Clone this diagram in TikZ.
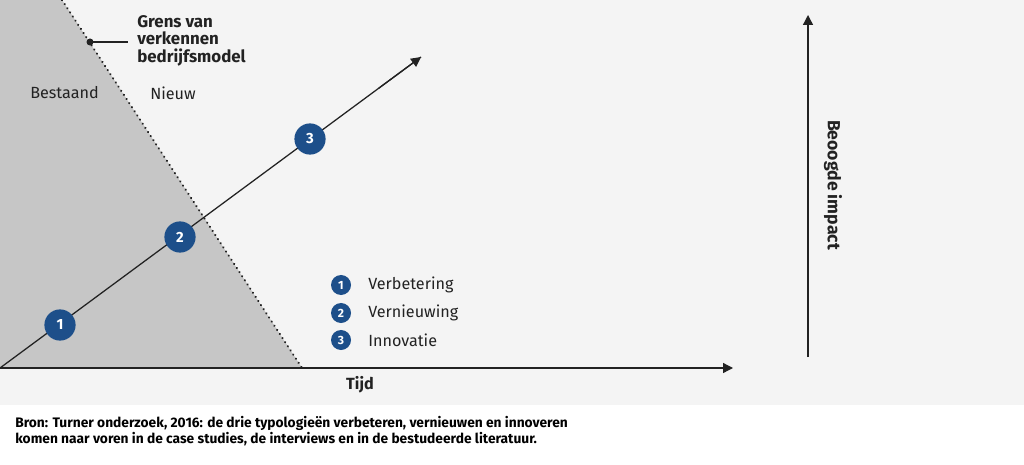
\documentclass[tikz,border=0pt]{standalone}
\usepackage{fontspec}
\setmainfont{Fira Sans}
\usetikzlibrary{arrows.meta,calc}
\definecolor{bg}{HTML}{F4F4F4}
\definecolor{tri}{HTML}{C6C6C6}
\definecolor{blu}{HTML}{1D4F8A}
\definecolor{ink}{HTML}{222222}
\tikzset{
  num/.style={circle,fill=blu,text=white,font=\bfseries\fontsize{10.5}{12}\selectfont,minimum size=0.78cm,inner sep=0pt},
  lnum/.style={circle,fill=blu,text=white,font=\bfseries\fontsize{8.5}{9}\selectfont,minimum size=0.5cm,inner sep=0pt},
  lbl/.style={text=ink,font=\fontsize{11.5}{13}\selectfont,anchor=west,inner sep=0pt},
  arr/.style={-{Triangle[length=7pt,width=7pt]},ink,line width=0.9pt}
}
\begin{document}
\begin{tikzpicture}[x=0.025cm,y=-0.025cm]
\useasboundingbox (0,0) rectangle (1024,465);
\fill[bg] (0,0) rectangle (1024,405);
\fill[white] (0,405) rectangle (1024,465);
\fill[tri] (0,0) -- (62,0) -- (302,368) -- (0,368) -- cycle;
\coordinate (ta) at (62,0);
\coordinate (tb) at (302,368);
\draw[ink,line width=1.6pt,dash pattern=on 0.1pt off 3.4pt,line cap=round] (ta) -- (tb);
\coordinate (o) at (0,368);
\coordinate (xe) at (733,368);
\coordinate (de) at (421,57);
\draw[arr] (o) -- (xe);
\draw[ink,line width=0.9pt] (o) -- (de);
\draw[arr] ($(o)!0.9!(de)$) -- (de);
\node[num] (n1) at (60,325) {1};
\node[num] (n2) at (180,237) {2};
\node[num] (n3) at (310,139) {3};
\fill[ink] (90,42) circle (3.5);
\coordinate (gd) at (90,42);
\node[font=\bfseries\fontsize{12}{12.5}\selectfont,align=left,anchor=north west,inner sep=0pt,text=ink] (gr) at (137,15) {Grens van\\verkennen\\bedrijfsmodel};
\draw[ink,line width=0.8pt] (gd) -- (128,42);
\node[lbl] (be) at (30,93) {Bestaand};
\node[lbl] (ni) at (150,93) {Nieuw};
\node[lnum] (l1) at (341,285) {1};
\node[lnum] (l2) at (341,313) {2};
\node[lnum] (l3) at (341,340) {3};
\node[lbl] at (368,285) {Verbetering};
\node[lbl] at (368,313) {Vernieuwing};
\node[lbl] at (368,340) {Innovatie};
\node[font=\bfseries\fontsize{11.5}{13}\selectfont,text=ink] (tijd) at (360,385) {Tijd};
\coordinate (vb) at (808,357);
\coordinate (vt) at (808,15);
\draw[arr] (vb) -- (vt);
\node[font=\bfseries\fontsize{12.5}{14}\selectfont,text=ink,rotate=-90] (bi) at (833,185) {Beoogde impact};
\node[font=\bfseries\fontsize{9.8}{11.5}\selectfont,align=left,anchor=north west,inner sep=0pt,text=black] (cap) at (15,416) {Bron: Turner onderzoek, 2016: de drie typologieën verbeteren, vernieuwen en innoveren\\komen naar voren in de case studies, de interviews en in de bestudeerde literatuur.};
\end{tikzpicture}
\end{document}
